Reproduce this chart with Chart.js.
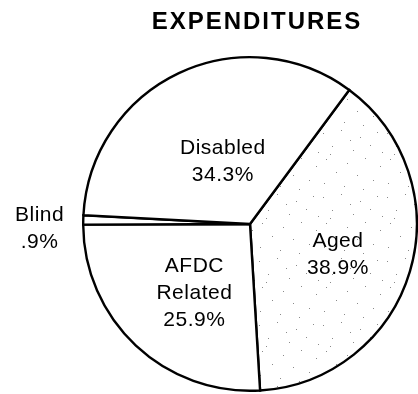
<!DOCTYPE html>
<html>
<head>
<meta charset="utf-8">
<script src="https://cdn.jsdelivr.net/npm/chart.js@4"></script>
<style>
html,body{margin:0;padding:0;background:#fff;}
#wrap{width:418px;height:394px;position:relative;}
</style>
</head>
<body>
<div id="wrap"><canvas id="c" width="418" height="394"></canvas></div>
<script>
const title = "EXPENDITURES";
const categories = ["Aged", "AFDC Related", "Blind", "Disabled"];
const values = [38.9, 25.9, 0.9, 34.3];
const labelLines = [["Aged", "38.9%"], ["AFDC", "Related", "25.9%"], ["Blind", ".9%"], ["Disabled", "34.3%"]];

// label placement along each slice's bisector (fraction of radius), plus small nudges
const labelRadius = [0.55, 0.54, 1.25, 0.41];
const labelNudge = [[0, 5], [6, 4], [-2, 10], [2, 0]];

function stipple() {
  const c = document.createElement('canvas');
  c.width = 64; c.height = 64;
  const x = c.getContext('2d');
  x.fillStyle = '#fff'; x.fillRect(0, 0, 64, 64);
  x.fillStyle = '#8a8a8a';
  const dots = [[3,5],[21,2],[40,9],[57,4],[12,18],[33,22],[50,17],[6,31],[27,35],[45,30],[60,38],[16,44],[37,47],[53,52],[4,55],[24,58],[43,61],[10,26],[30,12],[62,24]];
  dots.forEach(d => x.fillRect(d[0], d[1], 1, 1));
  return x.createPattern(c, 'repeat');
}

const ctx0 = document.getElementById('c').getContext('2d');
const aged = stipple();

const textPlugin = {
  id: 'texts',
  afterDraw(chart) {
    const ctx = chart.ctx;
    ctx.save();
    ctx.fillStyle = '#000';
    ctx.textAlign = 'center';
    ctx.textBaseline = 'middle';
    ctx.font = 'bold 24px "Liberation Sans", Arial, sans-serif';
    if ('letterSpacing' in ctx) ctx.letterSpacing = '2px';
    ctx.fillText(title, 257, 22);
    ctx.font = '21px "Liberation Sans", Arial, sans-serif';
    if ('letterSpacing' in ctx) ctx.letterSpacing = '0.5px';
    const meta = chart.getDatasetMeta(0);
    meta.data.forEach((arc, i) => {
      const p = arc.getProps(['x', 'y', 'startAngle', 'endAngle', 'outerRadius'], true);
      const mid = (p.startAngle + p.endAngle) / 2;
      const r = p.outerRadius * labelRadius[i];
      const cx = p.x + Math.cos(mid) * r + labelNudge[i][0];
      const cy = p.y + Math.sin(mid) * r + labelNudge[i][1];
      const lines = labelLines[i];
      const lh = 27;
      lines.forEach((t, k) => {
        ctx.fillText(t, cx, cy + (k - (lines.length - 1) / 2) * lh);
      });
    });
    ctx.restore();
  }
};

new Chart(ctx0, {
  type: 'pie',
  data: {
    labels: categories,
    datasets: [{
      data: values,
      backgroundColor: [aged, '#fff', '#fff', '#fff'],
      borderColor: '#000',
      borderWidth: 2.4,
      borderJoinStyle: 'miter'
    }]
  },
  options: {
    responsive: false,
    animation: false,
    rotation: 36.5,
    layout: { padding: { left: 82, right: 0, top: 56, bottom: 2 } },
    plugins: { legend: { display: false }, tooltip: { enabled: false }, title: { display: false } },
    events: []
  },
  plugins: [textPlugin]
});
</script>
</body>
</html>
